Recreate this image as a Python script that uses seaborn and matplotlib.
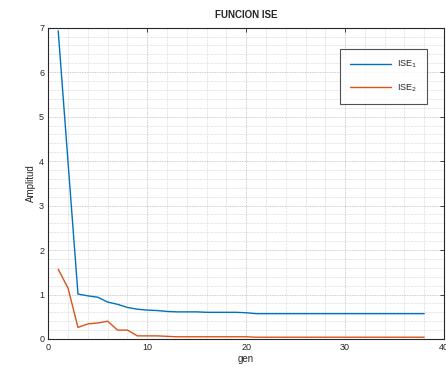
import matplotlib
matplotlib.use("Agg")
import matplotlib.pyplot as plt
import seaborn as sns
import pandas as pd
from matplotlib.ticker import MultipleLocator

gen = list(range(1, 39))
ise1 = [6.93, 3.96, 1.01, 0.97, 0.94, 0.83, 0.78, 0.71, 0.67, 0.65,
        0.64, 0.62, 0.61, 0.61, 0.61, 0.60, 0.60, 0.60, 0.60, 0.59,
        0.57, 0.57, 0.57, 0.57, 0.57, 0.57, 0.57, 0.57, 0.57, 0.57,
        0.57, 0.57, 0.57, 0.57, 0.57, 0.57, 0.57, 0.57]
ise2 = [1.57, 1.14, 0.26, 0.34, 0.36, 0.40, 0.20, 0.20, 0.07, 0.07,
        0.07, 0.06, 0.05, 0.05, 0.05, 0.05, 0.05, 0.05, 0.05, 0.05,
        0.04, 0.04, 0.04, 0.04, 0.04, 0.04, 0.04, 0.04, 0.04, 0.04,
        0.04, 0.04, 0.04, 0.04, 0.04, 0.04, 0.04, 0.04]
labels = ["ISE$_1$", "ISE$_2$"]
colors = ["#0072BD", "#D95319"]

df = pd.DataFrame({
    "gen": gen * 2,
    "val": ise1 + ise2,
    "serie": [labels[0]] * len(gen) + [labels[1]] * len(gen),
})

sns.set_theme(style="white")
plt.rcParams["font.family"] = ["Liberation Sans", "DejaVu Sans"]

fig = plt.figure(figsize=(4.46, 3.67), dpi=100)
ax = fig.add_axes([0.1083, 0.0763, 0.8872, 0.8482])
sns.lineplot(data=df, x="gen", y="val", hue="serie", palette=colors,
             linewidth=1.0, ax=ax, legend=True)

ax.set_xlim(0, 40)
ax.set_ylim(0, 7)
ax.xaxis.set_major_locator(MultipleLocator(10))
ax.xaxis.set_minor_locator(MultipleLocator(2))
ax.yaxis.set_major_locator(MultipleLocator(1))
ax.yaxis.set_minor_locator(MultipleLocator(0.2))
ax.grid(which="major", color="#bdbdbd", linestyle=(0, (1, 1)), linewidth=0.6)
ax.grid(which="minor", color="#cfcfcf", linestyle=(0, (1, 1)), linewidth=0.5)
ax.set_axisbelow(True)
for s in ax.spines.values():
    s.set_color("#262626")
    s.set_linewidth(0.8)
ax.tick_params(which="major", direction="in", length=3, width=0.6,
               top=True, right=True, labelsize=6.5, colors="#262626", pad=3)
ax.tick_params(which="minor", length=0)

ax.set_title("FUNCION ISE", fontsize=7, fontweight="bold", pad=7)
ax.set_xlabel("gen", fontsize=7, labelpad=1)
ax.set_ylabel("Amplitud", fontsize=7, labelpad=2)

leg = ax.legend(loc="upper right", bbox_to_anchor=(0.957, 0.9316), fontsize=6.5,
                frameon=True, fancybox=False, edgecolor="#262626",
                handlelength=4.5, labelspacing=1.3, borderpad=1.1,
                handletextpad=0.7, borderaxespad=0)
leg.get_frame().set_linewidth(0.8)

fig.savefig("out.png", dpi=100, facecolor="white")
